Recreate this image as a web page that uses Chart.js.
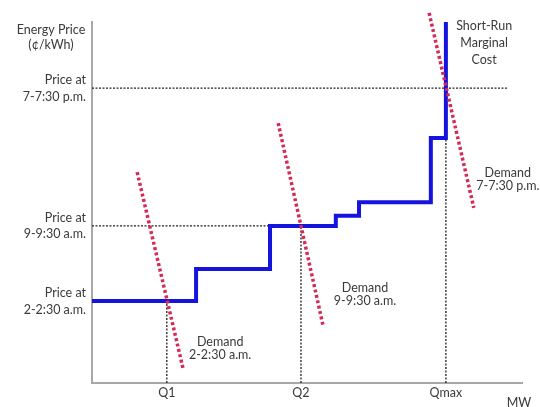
<!DOCTYPE html>
<html>
<head>
<meta charset="utf-8">
<script src="https://cdn.jsdelivr.net/npm/chart.js@4"></script>
<style>
  html, body { margin: 0; padding: 0; background: #fff; }
  #wrap { width: 540px; height: 407px; }
</style>
</head>
<body>
<div id="wrap"><canvas id="c"></canvas></div>
<script>
    // supply curve (short-run marginal cost), step starts
    const supplyX = [0, 24.2, 41.4, 56.7, 62.1, 78.8, 82.3];
    const supplyY = [22.7, 31.6, 43.5, 46.3, 50.1, 67.9, 100];

    // demand lines, [top point, bottom point]
    const demand1X = [10.5, 21.2];
    const demand1Y = [58.4, 3.9];
    const demand2X = [43.3, 53.7];
    const demand2Y = [72.0, 16.1];
    const demand3X = [78.4, 88.8];
    const demand3Y = [102.5, 48.5];

    // prices and quantities at the crossings
    const priceValues = [22.7, 43.5, 81.7];
    const priceLabels = [
        ["Price at", "2-2:30 a.m."],
        ["Price at", "9-9:30 a.m."],
        ["Price at", "7-7:30 p.m."]
    ];
    const qtyValues = [17.4, 48.6, 82.3];
    const qtyLabels = ["Q1", "Q2", "Qmax"];

    // dotted guide lines: where each one stops
    const hGuideEnd = [48.6, 96.5];      // for price 2 and price 3
    const vGuideTop = [22.7, 43.5, 67.9]; // for Q1, Q2, Qmax

    const FONT = "Lato, 'Open Sans', sans-serif";
    const TEXT = "#3a3a3a";

    function pts(xs, ys) {
        return xs.map(function (x, i) { return { x: x, y: ys[i] }; });
    }

    const guideStyle = {
        borderColor: "#222",
        borderWidth: 1.3,
        borderDash: [2, 1.5],
        pointRadius: 0,
        showLine: true,
        order: 3
    };
    const demandStyle = {
        borderColor: "#d42a55",
        borderWidth: 3.5,
        borderDash: [3, 2.5],
        pointRadius: 0,
        showLine: true,
        clip: false,
        order: 0
    };

    let datasets = [];
    datasets.push(Object.assign({ data: pts([0, hGuideEnd[0]], [priceValues[1], priceValues[1]]) }, guideStyle));
    datasets.push(Object.assign({ data: pts([0, hGuideEnd[1]], [priceValues[2], priceValues[2]]) }, guideStyle));
    qtyValues.map(function (q, i) {
        datasets.push(Object.assign({ data: pts([q, q], [0, vGuideTop[i]]) }, guideStyle));
    });
    datasets.push({
        data: pts(supplyX, supplyY),
        stepped: "before", // horizontal first, then up
        borderColor: "#1414dc",
        borderWidth: 4,
        pointRadius: 0,
        showLine: true,
        clip: false,
        order: 1
    });
    datasets.push(Object.assign({ data: pts(demand1X, demand1Y) }, demandStyle));
    datasets.push(Object.assign({ data: pts(demand2X, demand2Y) }, demandStyle));
    datasets.push(Object.assign({ data: pts(demand3X, demand3Y) }, demandStyle));

    // text notes, positioned in data units
    const notes = [
        { x: 29.8, y: 11.4, lines: ["Demand", "2-2:30 a.m."] },
        { x: 63.5, y: 26.3, lines: ["Demand", "9-9:30 a.m."] },
        { x: 96.7, y: 58.2, lines: ["Demand", "7-7:30 p.m."] },
        { x: 91.2, y: 98.9, lines: ["Short-Run", "Marginal", "Cost"], gap: 17 }
    ];

    const notesPlugin = {
        id: "notes",
        afterDraw: function (chart) {
            const ctx = chart.ctx;
            const xs = chart.scales.x, ys = chart.scales.y;
            ctx.save();
            ctx.fillStyle = TEXT;
            ctx.font = "12.5px " + FONT;
            ctx.textAlign = "center";
            ctx.textBaseline = "middle";
            notes.map(function (n) {
                let px = xs.getPixelForValue(n.x), py = ys.getPixelForValue(n.y);
                n.lines.map(function (t, i) {
                    ctx.fillText(t, px, py + i * (n.gap || 13));
                });
            });
            // axis titles
            ctx.fillText("Energy Price", 51, 30);
            ctx.fillText("(¢/kWh)", 51, 45);
            ctx.fillText("MW", 519, 403);
            ctx.restore();
        }
    };

    new Chart(document.getElementById("c"), {
        type: "scatter",
        data: { datasets: datasets },
        options: {
            responsive: true,
            maintainAspectRatio: false,
            animation: false,
            layout: { padding: { top: 22, right: 18, left: 0, bottom: 0 } },
            plugins: { legend: { display: false }, tooltip: { enabled: false } },
            scales: {
                x: {
                    type: "linear",
                    min: 0,
                    max: 100,
                    grid: { display: false },
                    border: { display: true, color: "#a8a8a8", width: 2 },
                    afterBuildTicks: function (scale) {
                        scale.ticks = qtyValues.map(function (v) { return { value: v }; });
                    },
                    afterFit: function (scale) { scale.height = 24; },
                    ticks: {
                        autoSkip: false,
                        maxRotation: 0,
                        padding: -6,
                        color: TEXT,
                        font: { family: FONT, size: 12.5 },
                        callback: function (value) {
                            return qtyLabels[qtyValues.indexOf(value)];
                        }
                    }
                },
                y: {
                    type: "linear",
                    min: 0,
                    max: 100,
                    grid: { display: false },
                    border: { display: true, color: "#a8a8a8", width: 2 },
                    afterBuildTicks: function (scale) {
                        scale.ticks = priceValues.map(function (v) { return { value: v }; });
                    },
                    afterFit: function (scale) { scale.width = 92; },
                    ticks: {
                        autoSkip: false,
                        padding: -2,
                        color: TEXT,
                        font: { family: FONT, size: 12.5, lineHeight: 1.35 },
                        callback: function (value) {
                            return priceLabels[priceValues.indexOf(value)];
                        }
                    }
                }
            }
        },
        plugins: [notesPlugin]
    });
</script>
</body>
</html>
